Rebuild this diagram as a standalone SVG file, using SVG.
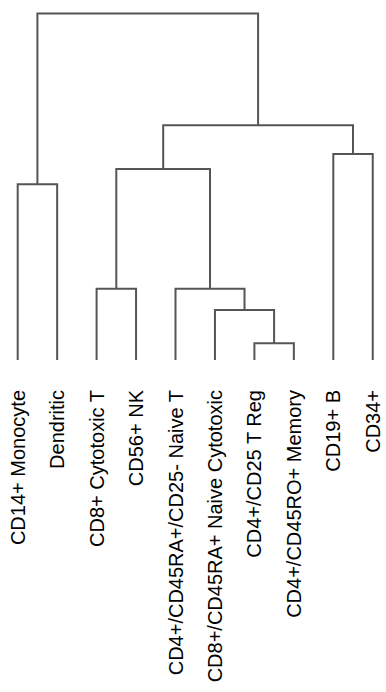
<svg xmlns="http://www.w3.org/2000/svg" width="386" height="692" viewBox="0 0 386 692">
<style>
.l{fill:none;stroke:#555555;stroke-width:2;stroke-linecap:butt;stroke-linejoin:miter}
.t{font-family:"Liberation Sans",Arial,sans-serif;font-size:20px;fill:#000000;text-anchor:end}
</style>
<rect width="386" height="692" fill="#ffffff"/>
<g id="connectors">
<path class="l" d="M17.7,360 V184.3 H57.15 V360"/>
<path class="l" d="M96.6,360 V288.7 H136.05 V360"/>
<path class="l" d="M254.4,360 V343.3 H293.85 V360"/>
<path class="l" d="M214.95,360 V310 H274.1 V343.3"/>
<path class="l" d="M175.5,360 V288.7 H244.5 V310"/>
<path class="l" d="M116.3,288.7 V169 H210 V288.7"/>
<path class="l" d="M333.3,360 V154 H372.75 V360"/>
<path class="l" d="M163.2,169 V125.3 H353 V154"/>
<path class="l" d="M37.4,184.3 V13.5 H258.1 V125.3"/>
</g>
<g id="leaf-cd14"><text class="t" transform="translate(24.7,390) rotate(-90)">CD14+ Monocyte</text></g>
<g id="leaf-dendritic"><text class="t" transform="translate(64.15,390) rotate(-90)">Dendritic</text></g>
<g id="leaf-cd8"><text class="t" transform="translate(103.6,390) rotate(-90)">CD8+ Cytotoxic T</text></g>
<g id="leaf-cd56"><text class="t" transform="translate(143.05,390) rotate(-90)">CD56+ NK</text></g>
<g id="leaf-cd4naive"><text class="t" transform="translate(182.5,390) rotate(-90)">CD4+/CD45RA+/CD25- Naive T</text></g>
<g id="leaf-cd8naive"><text class="t" transform="translate(221.95,390) rotate(-90)">CD8+/CD45RA+ Naive Cytotoxic</text></g>
<g id="leaf-treg"><text class="t" transform="translate(261.4,390) rotate(-90)">CD4+/CD25 T Reg</text></g>
<g id="leaf-memory"><text class="t" transform="translate(300.85,390) rotate(-90)">CD4+/CD45RO+ Memory</text></g>
<g id="leaf-cd19"><text class="t" transform="translate(340.3,390) rotate(-90)">CD19+ B</text></g>
<g id="leaf-cd34"><text class="t" transform="translate(379.75,390) rotate(-90)">CD34+</text></g>
</svg>
